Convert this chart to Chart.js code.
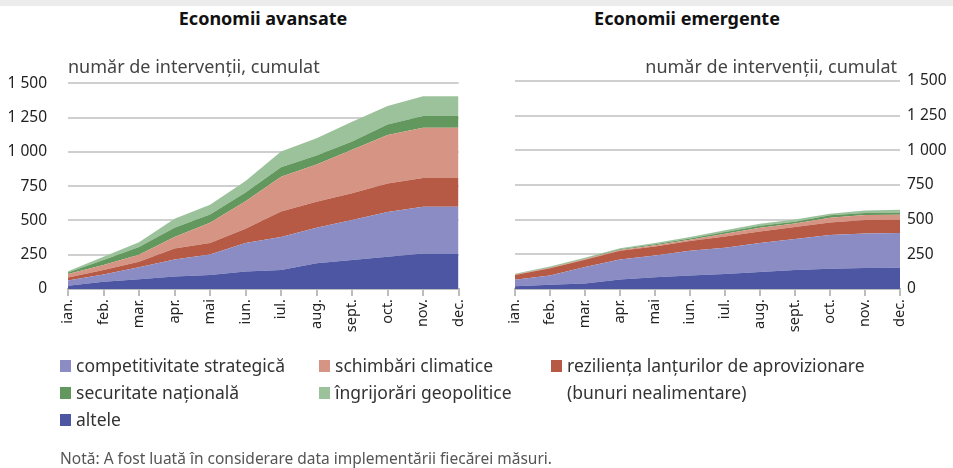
<!DOCTYPE html>
<html>
<head>
<meta charset="utf-8">
<script src="https://cdn.jsdelivr.net/npm/chart.js@4"></script>
<style>
  body { margin: 0; width: 953px; height: 468px; background: #fff; position: relative; overflow: hidden;
         font-family: "Noto Sans", "Open Sans", sans-serif; color: #333; }
  .band { position: absolute; left: 0; top: 0; width: 953px; height: 6px; background: #ececec; }
  .title { position: absolute; top: 6px; font-weight: bold; font-size: 18px; color: #111; transform: translateX(-50%); white-space: nowrap; }
  .unit { position: absolute; top: 54px; font-size: 18px; color: #444; white-space: nowrap; }
  canvas { position: absolute; }
  .leg { position: absolute; font-size: 17.5px; color: #333; white-space: nowrap; line-height: 27px; }
  .sw { position: absolute; width: 11px; height: 12px; }
  .note { position: absolute; left: 60px; top: 447px; font-size: 15.5px; color: #555; white-space: nowrap; }
</style>
</head>
<body>
<div class="band"></div>
<div class="title" style="left:263px">Economii avansate</div>
<div class="title" style="left:687px">Economii emergente</div>
<canvas id="adv" width="479" height="307" style="left:0;top:53px"></canvas>
<canvas id="emg" width="473" height="300" style="left:480px;top:60px"></canvas>
<div class="unit" style="left:68px">număr de intervenții, cumulat</div>
<div class="unit" style="right:56px">număr de intervenții, cumulat</div>
<div id="legend"></div>
<div class="note">Notă: A fost luată în considerare data implementării fiecărei măsuri.</div>
<script>
const months = ['ian.', 'feb.', 'mar.', 'apr.', 'mai', 'iun.', 'iul.', 'aug.', 'sept.', 'oct.', 'nov.', 'dec.'];
const seriesNames = ['altele', 'competitivitate strategică', 'reziliența lanțurilor de aprovizionare (bunuri nealimentare)',
  'schimbări climatice', 'securitate națională', 'îngrijorări geopolitice'];
const seriesColors = ['#4c56a3', '#8a8cc3', '#b65a45', '#d69584', '#62985e', '#9cc29c'];
const yTicks = [0, 250, 500, 750, 1000, 1250, 1500];

// Economii avansate (increments per layer, stacked)
const advAltele = [24, 53, 72, 91, 103, 127, 139, 187, 211, 235, 259, 259];
const advCompet = [38, 52, 87, 125, 149, 209, 240, 259, 293, 327, 341, 341];
const advRezil = [22, 34, 40, 79, 84, 104, 187, 190, 194, 208, 209, 209];
const advClimat = [26, 36, 51, 84, 147, 199, 252, 271, 317, 353, 367, 367];
const advSecur = [10, 36, 57, 68, 60, 65, 70, 67, 60, 77, 86, 86];
const advGeopol = [10, 24, 34, 65, 72, 84, 115, 125, 144, 134, 144, 144];

// Economii emergente
const emgAltele = [19, 31, 40, 69, 84, 98, 108, 122, 137, 146, 151, 154];
const emgCompet = [48, 67, 119, 144, 158, 178, 190, 209, 223, 243, 250, 250];
const emgRezil = [34, 51, 52, 63, 65, 70, 81, 84, 87, 91, 96, 96];
const emgClimat = [3, 4, 5, 5, 8, 10, 20, 27, 26, 34, 37, 36];
const emgSecur = [3, 4, 4, 5, 7, 8, 12, 14, 12, 17, 14, 14];
const emgGeopol = [3, 6, 6, 7, 10, 11, 12, 15, 17, 12, 19, 22];

function fmt(v) {
  return v >= 1000 ? Math.floor(v / 1000) + ' ' + String(v % 1000).padStart(3, '0') : String(v);
}

function makeChart(id, series, side) {
  const datasets = series.map((d, i) => ({
    label: seriesNames[i],
    data: d,
    backgroundColor: seriesColors[i],
    borderWidth: 0,
    pointRadius: 0,
    tension: 0,
    fill: i === 0 ? 'origin' : '-1'
  }));
  return new Chart(document.getElementById(id), {
    type: 'line',
    data: { labels: months, datasets: datasets },
    options: {
      responsive: false,
      animation: false,
      layout: { padding: { top: side === 'right' ? 21 : 0, left: side === 'right' ? 35 : 0, right: 0, bottom: 0 } },
      plugins: { legend: { display: false }, tooltip: { enabled: false } },
      scales: {
        x: {
          offset: false,
          grid: { drawOnChartArea: false, drawTicks: true, tickLength: 7, color: '#bdbdbd', lineWidth: 2 },
          border: { color: '#bdbdbd', width: 2 },
          ticks: { autoSkip: false, minRotation: 90, maxRotation: 90, padding: 3, color: '#222',
                   font: { family: 'Noto Sans', size: 14.5 } },
          afterFit: s => { s.height = 71; }
        },
        y: {
          position: side,
          stacked: true,
          min: 0, max: 1500,
          afterBuildTicks: s => { s.ticks = yTicks.map(v => ({ value: v })); },
          grid: { drawTicks: false, color: '#cfcfcf', lineWidth: 2 },
          border: { display: false },
          ticks: { padding: side === 'left' ? 21 : 7, color: '#222', callback: v => fmt(v),
                   font: { family: 'Noto Sans', size: 15.5 } },
          afterFit: s => { s.width = side === 'left' ? 68 : 53; }
        }
      }
    }
  });
}

makeChart('adv', [advAltele, advCompet, advRezil, advClimat, advSecur, advGeopol], 'left');
makeChart('emg', [emgAltele, emgCompet, emgRezil, emgClimat, emgSecur, emgGeopol], 'right');

// legend in the reference layout
const legendItems = [
  { i: 1, x: 60, y: 352, text: 'competitivitate strategică' },
  { i: 3, x: 319, y: 352, text: 'schimbări climatice' },
  { i: 2, x: 551, y: 352, text: 'reziliența lanțurilor de aprovizionare<br>(bunuri nealimentare)' },
  { i: 4, x: 60, y: 379, text: 'securitate națională' },
  { i: 5, x: 319, y: 379, text: 'îngrijorări geopolitice' },
  { i: 0, x: 60, y: 406, text: 'altele' }
];
const legend = document.getElementById('legend');
legendItems.forEach(it => {
  const sw = document.createElement('div');
  sw.className = 'sw';
  sw.style.left = it.x + 'px';
  sw.style.top = (it.y + 8) + 'px';
  sw.style.background = seriesColors[it.i];
  legend.appendChild(sw);
  const t = document.createElement('div');
  t.className = 'leg';
  t.style.left = (it.x + 16) + 'px';
  t.style.top = it.y + 'px';
  t.innerHTML = it.text;
  legend.appendChild(t);
});
</script>
</body>
</html>
